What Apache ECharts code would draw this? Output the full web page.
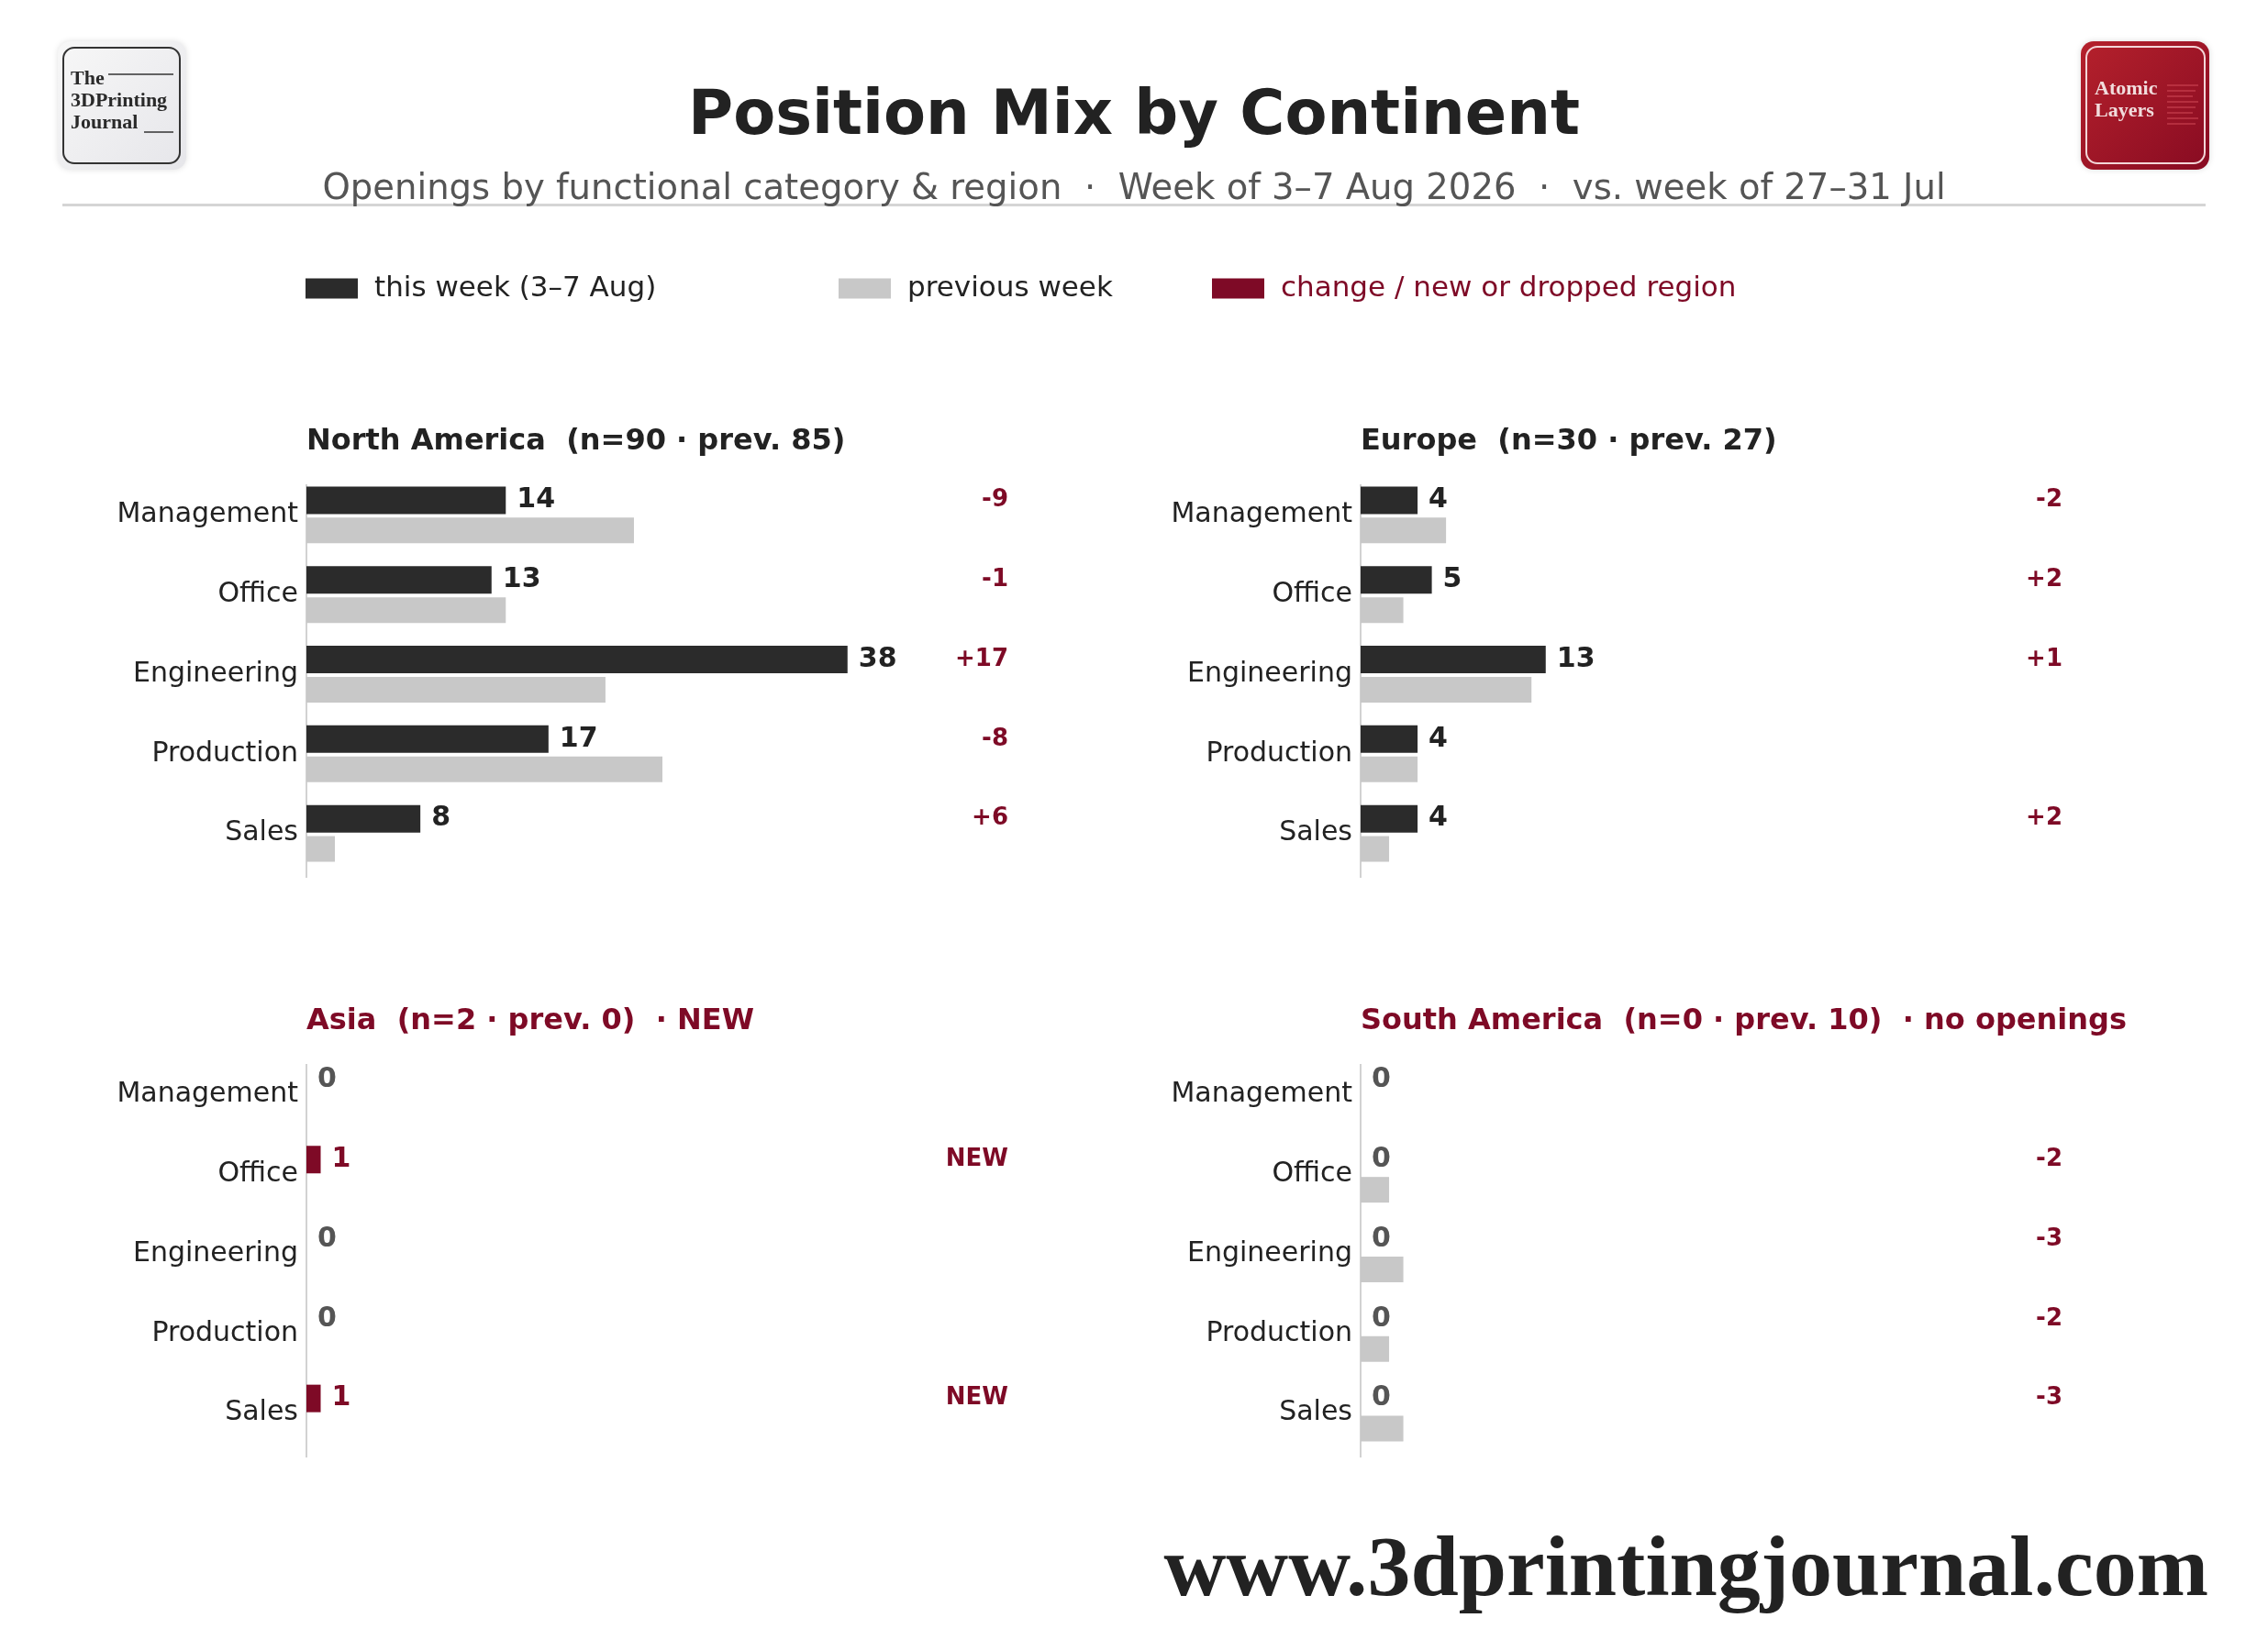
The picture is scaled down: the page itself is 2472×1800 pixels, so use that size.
<!DOCTYPE html>
<html>
<head>
<meta charset="utf-8">
<script src="https://cdn.jsdelivr.net/npm/echarts@6/dist/echarts.min.js"></script>
<style>
  html, body { margin: 0; padding: 0; background: #fff; }
  #main { width: 2472px; height: 1800px; }
</style>
</head>
<body>
<div id="main"></div>
<script>
// categories + weekly counts per continent (this week / previous week)
var categories = ['Management', 'Office', 'Engineering', 'Production', 'Sales'];
var naThis = [14, 13, 38, 17, 8];
var naPrev = [23, 14, 21, 25, 2];
var euThis = [4, 5, 13, 4, 4];
var euPrev = [6, 3, 12, 4, 2];
var asThis = [0, 1, 0, 0, 1];
var asPrev = [0, 0, 0, 0, 0];
var saThis = [0, 0, 0, 0, 0];
var saPrev = [0, 2, 3, 2, 3];
var panelTitles = [
  'North America  (n=90 · prev. 85)',
  'Europe  (n=30 · prev. 27)',
  'Asia  (n=2 · prev. 0)  · NEW',
  'South America  (n=0 · prev. 10)  · no openings'
];

var DARK = '#2b2b2b';
var GREY = '#c8c8c8';
var RED = '#7e0a26';
var FONT = 'DejaVu Sans';
var SERIF = 'Liberation Serif';
var XMAX = 50;

var THIS_NAME = 'this week (3–7 Aug)';
var PREV_NAME = 'previous week';
var CHG_NAME = 'change / new or dropped region';

var panels = [
  { left: 334, top: 518, cur: naThis, prev: naPrev, title: panelTitles[0], titleColor: '#222' },
  { left: 1483, top: 518, cur: euThis, prev: euPrev, title: panelTitles[1], titleColor: '#222' },
  { left: 334, top: 1150, cur: asThis, prev: asPrev, title: panelTitles[2], titleColor: RED },
  { left: 1483, top: 1150, cur: saThis, prev: saPrev, title: panelTitles[3], titleColor: RED }
];

var chart = echarts.init(document.getElementById('main'));

var grids = [], xAxes = [], yAxes = [], series = [];
var titles = [
  {
    text: 'Position Mix by Continent', left: 'center', top: 95, padding: 0,
    textStyle: { fontFamily: FONT, fontSize: 67, fontWeight: 'bold', color: '#222' }
  },
  {
    text: 'Openings by functional category & region  ·  Week of 3–7 Aug 2026  ·  vs. week of 27–31 Jul',
    left: 'center', top: 187, padding: 0,
    textStyle: { fontFamily: FONT, fontSize: 38.6, fontWeight: 'normal', color: '#555' }
  }
];
var graphics = [];

panels.forEach(function (p, i) {
  grids.push({ left: p.left, top: p.top, width: XMAX * 15.52, height: 434 });
  xAxes.push({ type: 'value', gridIndex: i, min: 0, max: XMAX, show: false });
  yAxes.push({
    type: 'category', gridIndex: i, data: categories, inverse: true,
    axisLine: { show: false },
    axisTick: { show: false },
    splitLine: { show: false },
    axisLabel: { fontFamily: FONT, fontSize: 30, color: '#222', margin: 9, padding: [12, 0, 0, 0] }
  });
  // left spine of the panel
  graphics.push({
    type: 'line', shape: { x1: p.left, y1: p.top + 10, x2: p.left, y2: p.top + 439 },
    style: { stroke: '#d2d2d2', lineWidth: 2 }
  });
  titles.push({
    text: p.title, left: p.left, top: p.top - 52, padding: 0,
    textStyle: { fontFamily: FONT, fontSize: 32, fontWeight: 'bold', color: p.titleColor }
  });

  var curData = p.cur.map(function (v, k) {
    var isNew = v > 0 && p.prev[k] === 0;
    return {
      value: v,
      itemStyle: { color: isNew ? RED : DARK },
      label: { color: v === 0 ? '#555' : (isNew ? RED : '#222') }
    };
  });
  series.push({
    name: THIS_NAME, type: 'bar', xAxisIndex: i, yAxisIndex: i,
    barWidth: 30, barGap: '13%', data: curData, itemStyle: { color: DARK },
    label: {
      show: true, position: 'right', distance: 12,
      fontFamily: FONT, fontSize: 30, fontWeight: 'bold'
    }
  });
  series.push({
    name: PREV_NAME, type: 'bar', xAxisIndex: i, yAxisIndex: i,
    barWidth: 28, barGap: '13%', data: p.prev, itemStyle: { color: GREY }
  });

  var chg = [];
  p.cur.forEach(function (v, k) {
    var d = v - p.prev[k];
    var txt = '';
    if (v > 0 && p.prev[k] === 0) txt = 'NEW';
    else if (d > 0) txt = '+' + d;
    else if (d < 0) txt = String(d);
    if (txt) chg.push({ value: [XMAX, categories[k]], txt: txt });
  });
  series.push({
    name: CHG_NAME, type: 'scatter', xAxisIndex: i, yAxisIndex: i,
    symbolSize: 0, itemStyle: { color: RED, opacity: 1 }, data: chg,
    label: {
      show: true, position: 'left', distance: 11, offset: [0, -16],
      fontFamily: FONT, fontSize: 26, fontWeight: 'bold', color: RED, opacity: 1,
      formatter: function (prm) { return prm.data.txt; }
    }
  });
});

function legendAt(name, left, color, iconColor) {
  return {
    left: left, top: 299, padding: 0, itemWidth: 57, itemHeight: 22,
    selectedMode: false,
    data: [{ name: name, icon: 'rect', itemStyle: { color: iconColor, opacity: 1 } }],
    textStyle: { fontFamily: FONT, fontSize: 31, color: color, padding: [0, 0, 0, 13] }
  };
}

graphics = graphics.concat([
  // header rule
  { type: 'rect', shape: { x: 68, y: 222, width: 2336, height: 3 }, style: { fill: '#d5d5d5' } },
  // left logo
  {
    type: 'rect', shape: { x: 63, y: 45, width: 140, height: 140, r: 14 },
    style: {
      fill: new echarts.graphic.LinearGradient(0, 0, 1, 1, [
        { offset: 0, color: '#f7f7f7' }, { offset: 1, color: '#e6e6ea' }
      ]),
      shadowBlur: 6, shadowColor: 'rgba(0,0,0,0.12)'
    }
  },
  {
    type: 'rect', shape: { x: 69, y: 52, width: 127, height: 126, r: 12 },
    style: { fill: 'none', stroke: '#333', lineWidth: 2 }
  },
  { type: 'text', x: 77, y: 97, style: { text: 'The', fontFamily: SERIF, fontWeight: 'bold', fontSize: 22, fill: '#2a2a2a', textVerticalAlign: 'bottom' } },
  { type: 'text', x: 77, y: 121, style: { text: '3DPrinting', fontFamily: SERIF, fontWeight: 'bold', fontSize: 22, fill: '#2a2a2a', textVerticalAlign: 'bottom' } },
  { type: 'text', x: 77, y: 145, style: { text: 'Journal', fontFamily: SERIF, fontWeight: 'bold', fontSize: 22, fill: '#2a2a2a', textVerticalAlign: 'bottom' } },
  { type: 'line', shape: { x1: 118, y1: 81, x2: 189, y2: 81 }, style: { stroke: '#333', lineWidth: 1.5 } },
  { type: 'line', shape: { x1: 157, y1: 144, x2: 189, y2: 144 }, style: { stroke: '#333', lineWidth: 1.5 } },
  // right logo
  {
    type: 'rect', shape: { x: 2268, y: 45, width: 140, height: 140, r: 14 },
    style: {
      fill: new echarts.graphic.LinearGradient(0, 0, 1, 1, [
        { offset: 0, color: '#b5212c' }, { offset: 1, color: '#880b22' }
      ]),
      shadowBlur: 6, shadowColor: 'rgba(0,0,0,0.15)'
    }
  },
  {
    type: 'rect', shape: { x: 2274, y: 51, width: 129, height: 127, r: 12 },
    style: { fill: 'none', stroke: '#f3d6d8', lineWidth: 2 }
  },
  { type: 'text', x: 2283, y: 108, style: { text: 'Atomic', fontFamily: SERIF, fontWeight: 'bold', fontSize: 22, fill: '#f1dcdc', textVerticalAlign: 'bottom' } },
  { type: 'text', x: 2283, y: 132, style: { text: 'Layers', fontFamily: SERIF, fontWeight: 'bold', fontSize: 22, fill: '#f1dcdc', textVerticalAlign: 'bottom' } },
  // footer
  {
    type: 'text', right: 65, top: 1668,
    style: { text: 'www.3dprintingjournal.com', fontFamily: SERIF, fontWeight: 'bold', fontSize: 94, fill: '#222' }
  }
]);
// decorative rules on the red logo
for (var r = 0; r < 8; r++) {
  graphics.push({
    type: 'line', shape: { x1: 2362, y1: 93 + r * 6, x2: 2396 - (r % 3) * 3, y2: 93 + r * 6 },
    style: { stroke: '#d24a58', lineWidth: 1 }
  });
}

chart.setOption({
  backgroundColor: '#fff',
  animation: false,
  title: titles,
  legend: [
    legendAt(THIS_NAME, 333, '#222', DARK),
    legendAt(PREV_NAME, 914, '#222', GREY),
    legendAt(CHG_NAME, 1321, RED, RED)
  ],
  grid: grids,
  xAxis: xAxes,
  yAxis: yAxes,
  series: series,
  graphic: graphics
});
</script>
</body>
</html>
